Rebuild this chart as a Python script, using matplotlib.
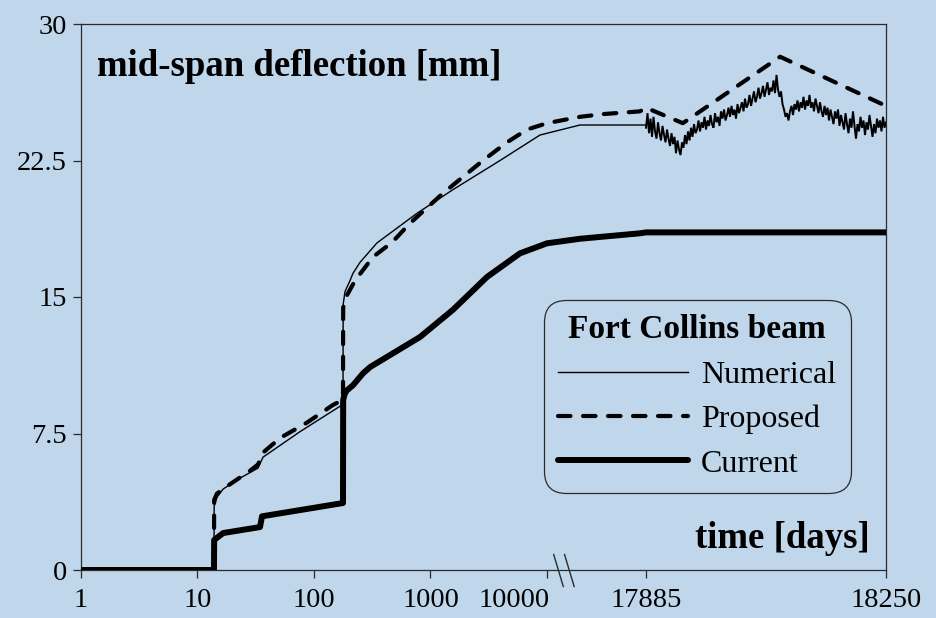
import numpy as np
import matplotlib
matplotlib.use("Agg")
import matplotlib.pyplot as plt
from matplotlib.path import Path
from matplotlib.transforms import ScaledTranslation

plt.rcParams["font.family"] = ["Liberation Serif", "DejaVu Serif"]

# ---------------------------------------------------------------- data
# time in days, deflection in mm
num_days = [1, 13.85, 13.9, 14.7, 16.6, 23.2, 33.1, 36.5, 75.8, 177.4, 178,
            184.6, 203.8, 216, 248, 347, 766, 1560, 3953, 8710, 12628, 17885]
num_vals = [0, 0, 3.5, 4.0, 4.45, 5.05, 5.6, 6.2, 7.6, 9.1, 14.6,
            15.3, 15.9, 16.3, 16.9, 17.97, 19.6, 20.9, 22.5, 23.9, 24.45, 24.45]

# record of the last year (17885 .. 18250 days)
num_tail_vals = [
    24.3, 25.1, 24.0, 24.8, 23.8, 24.9, 24.1, 23.7, 24.6, 24.0,
    23.6, 24.4, 23.9, 23.5, 24.2, 23.7, 23.3, 24.0, 23.4, 23.8,
    22.9, 23.6, 23.1, 22.8, 23.5, 23.2, 23.9, 23.4, 24.1, 23.6,
    24.3, 23.8, 24.5, 24.0, 24.2, 24.7, 24.1, 24.6, 24.3, 24.9,
    24.2, 24.7, 24.4, 25.0, 24.5, 24.3, 25.1, 24.6, 24.9, 24.4,
    25.2, 24.8, 25.3, 24.7, 25.0, 25.4, 24.9, 25.5, 25.0, 25.3,
    24.8, 25.6, 25.1, 25.4, 25.7, 25.2, 25.9, 25.4, 25.6, 26.1,
    25.5, 25.9, 26.3, 25.7, 26.0, 26.5, 25.9, 26.2, 26.6, 26.0,
    26.4, 26.8, 26.1, 26.5, 26.3, 26.9, 26.2, 27.2, 26.4, 26.0,
    26.3, 25.6, 25.3, 24.9, 25.1, 24.7, 25.2, 25.5, 25.0, 25.6,
    25.3, 25.8, 25.2, 25.7, 25.4, 26.0, 25.3, 25.8, 25.5, 26.1,
    25.4, 25.7, 25.2, 25.9, 25.5, 25.1, 25.7, 25.2, 24.9, 25.5,
    25.0, 25.4, 24.7, 25.3, 24.9, 24.5, 25.2, 24.8, 25.3, 24.4,
    25.0, 24.6, 24.2, 25.1, 24.5, 24.0, 24.8, 24.3, 25.2, 24.4,
    23.7, 24.5, 24.1, 24.9, 24.3, 24.7, 23.9, 24.6, 24.2, 25.0,
    24.4, 23.8, 24.5, 24.0, 24.8, 24.3, 24.7, 24.1, 24.9, 24.3,
    24.6,
]
num_tail_days = np.linspace(17885, 18250, len(num_tail_vals))

prop_days = [1, 13.85, 13.9, 14.7, 17.9, 28.2, 33.1, 36.5, 51.1, 87.1, 145.6,
             177.4, 178, 184.6, 224.9, 320.9, 467.5, 666.7, 1280, 1901, 2823,
             4537, 6734, 10000, 12628, 14460, 17407, 17885, 17941, 18089, 18250]
prop_vals = [0, 0, 3.85, 4.2, 4.6, 5.45, 5.8, 6.45, 7.25, 8.1, 9.07,
             9.35, 14.4, 14.9, 15.9, 17.2, 18.0, 19.05, 20.7, 21.6, 22.5,
             23.5, 24.2, 24.55, 24.9, 25.05, 25.2, 25.4, 24.55, 28.2, 25.5]

cur_days = [1, 13.85, 13.9, 16.6, 34.4, 35.8, 177.4, 178, 183, 190, 216, 263,
            303, 812, 1560, 3055, 5865, 10000, 12628, 17407, 17885, 18250]
cur_vals = [0, 0, 1.65, 2.03, 2.36, 2.95, 3.68, 9.34, 9.65, 9.85, 10.15, 10.8,
            11.15, 12.8, 14.3, 16.1, 17.4, 17.95, 18.2, 18.5, 18.55, 18.55]

x_ticks = [1, 10, 100, 1000, 10000, 17885, 18250]
x_tick_labels = ["1", "10", "100", "1000", "10000", "17885", "18250"]
y_ticks = [0, 7.5, 15, 22.5, 30]
y_tick_labels = ["0", "7.5", "15", "22.5", "30"]
break_day = 11270

# ---------------------------------------------------------------- broken time axis
GAP = 0.85     # width of the 10000..17885 stretch, in decades
LAST = 2.06    # width of the final year, in decades


def fwd(t):
    t = np.clip(np.asarray(t, dtype=float), 1e-9, None)
    return np.where(
        t <= 10000, np.log10(t),
        np.where(t <= 17885, 4 + GAP * (t - 10000) / 7885,
                 4 + GAP + LAST * (t - 17885) / 365))


def inv(u):
    u = np.asarray(u, dtype=float)
    return np.where(
        u <= 4, 10.0 ** np.minimum(u, 4),
        np.where(u <= 4 + GAP, 10000 + (u - 4) / GAP * 7885,
                 17885 + (u - 4 - GAP) / LAST * 365))


BG = "#C0D6EB"
fig = plt.figure(figsize=(9.37, 6.18), dpi=100, facecolor=BG)
ax = fig.add_axes([81 / 937, 48 / 618, 805 / 937, 546 / 618], facecolor=BG)
ax.set_xscale("function", functions=(fwd, inv))
ax.set_xlim(1, 18250)
ax.set_ylim(0, 30)

ln_num, = ax.plot(num_days, num_vals, color="black", lw=1.0,
                  label="Numerical", zorder=3)
ax.plot(num_tail_days, num_tail_vals, color="black", lw=1.4,
        solid_joinstyle="miter", zorder=3)
ln_prop, = ax.plot(prop_days, prop_vals, color="black", lw=3.0,
                   dashes=(3, 3), dash_capstyle="round",
                   label="Proposed", zorder=4)
ln_cur, = ax.plot(cur_days, cur_vals, color="black", lw=4.3,
                  solid_capstyle="round", solid_joinstyle="round",
                  label="Current", zorder=5)

# axis styling
for sp in ax.spines.values():
    sp.set_color("#2b2b2b")
    sp.set_linewidth(0.9)
ax.set_xticks(x_ticks)
ax.set_xticklabels(x_tick_labels)
ax.xaxis.set_minor_locator(matplotlib.ticker.NullLocator())
ax.set_yticks(y_ticks)
ax.set_yticklabels(y_tick_labels)
ax.tick_params(direction="out", length=6, width=0.9, color="#2b2b2b",
               labelsize=20.5)
ax.tick_params(axis="x", pad=7)
ax.tick_params(axis="y", pad=4)
# the 10000 label sits to the left of its tick
lbl = ax.get_xticklabels()[4]
lbl.set_transform(lbl.get_transform()
                  + ScaledTranslation(-0.33, 0, fig.dpi_scale_trans))

# axis break marks
brk = Path([(-0.6, 1), (0.0, -1), (0.05, 1), (0.65, -1)],
           [Path.MOVETO, Path.LINETO, Path.MOVETO, Path.LINETO])
ax.plot([break_day], [0], marker=brk, markersize=24, mew=1.0,
        mec="#2b2b2b", mfc="none", ls="none", clip_on=False, zorder=6)

# titles inside the frame
ax.text(0.02, 0.905, "mid-span deflection [mm]", transform=ax.transAxes,
        fontsize=26.5, fontweight="bold", ha="left", va="baseline")
ax.text(0.98, 0.040, "time [days]", transform=ax.transAxes,
        fontsize=26.5, fontweight="bold", ha="right", va="baseline")

leg = ax.legend(handles=[ln_num, ln_prop, ln_cur],
                title="Fort Collins beam",
                title_fontproperties={"weight": "bold", "size": 24},
                fontsize=23, loc="upper left",
                bbox_to_anchor=(0.575, 0.4945), borderaxespad=0,
                handlelength=4.07, handletextpad=0.4, labelspacing=0.47,
                borderpad=0.45, frameon=True, fancybox=True,
                facecolor=BG, edgecolor="#2b2b2b", framealpha=1)
leg.get_frame().set_linewidth(0.9)
leg.get_frame().set_boxstyle("round", pad=0, rounding_size=0.7)

fig.savefig("out.png", dpi=100, facecolor=BG)
